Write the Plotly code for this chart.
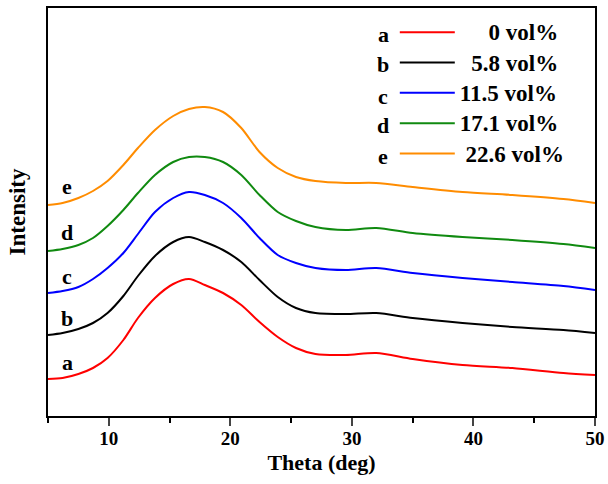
import plotly.graph_objects as go

theta = [5.0, 6.2, 7.5, 8.7, 9.9, 11.2, 12.4, 13.8, 15.3, 16.6, 17.9, 19.4, 20.9,
         22.4, 23.9, 25.4, 27.0, 29.5, 32.0, 35.0, 39.1, 43.2, 47.4, 50.0]

# intensity (arbitrary units, offset stacked)
int_a = [37, 38, 42, 48, 58, 76, 98, 118, 132, 137, 131, 123, 111, 94, 79, 68, 62, 61, 63, 57, 51, 48, 43, 41]
int_b = [81, 83, 87, 93, 103, 120, 140, 160, 174, 179, 174, 166, 154, 136, 119, 108, 103, 102, 103, 98, 93, 89, 86, 83]
int_c = [123, 125, 129, 137, 148, 163, 182, 204, 218, 224, 221, 213, 198, 178, 161, 153, 148, 146, 148, 143, 138, 134, 130, 126]
int_d = [165, 167, 171, 178, 190, 206, 223, 241, 254, 259, 259, 254, 241, 221, 204, 195, 189, 186, 188, 183, 179, 176, 172, 168]
int_e = [211, 213, 218, 225, 235, 251, 268, 286, 300, 307, 309, 304, 288, 264, 248, 239, 235, 233, 233, 229, 224, 221, 217, 213]

series_letters = ["a", "b", "c", "d", "e"]
series_names = ["0 vol%", "5.8 vol%", "11.5 vol%", "17.1 vol%", "22.6 vol%"]
series_values = [int_a, int_b, int_c, int_d, int_e]
series_colors = ["#ff0000", "#000000", "#0000ff", "#108a10", "#ff8c00"]
label_y = [54, 98, 140, 184, 230]
label_x = 6.6

FONT = "Liberation Serif, Times New Roman, serif"
pad = ["\u00a0" * 5, "\u00a0" * 2, "", "", "\u00a0"]

fig = go.Figure()
for i, (vals, name, col) in enumerate(zip(series_values, series_names, series_colors)):
    fig.add_trace(go.Scatter(
        x=theta, y=vals, mode="lines",
        name='<span style="font-size:23px">' + pad[i] + name + "</span>",
        line=dict(color=col, width=2, shape="spline", smoothing=0.8),
    ))

for lx, ly, lt in zip([label_x] * 5, label_y, series_letters):
    fig.add_annotation(x=lx, y=ly, text=lt, showarrow=False, xref="x", yref="y",
                       xanchor="center", yanchor="middle",
                       font=dict(family=FONT, size=22, color="black", weight="bold"))

# letters beside legend entries
leg_letter_y = [34, 65, 96, 126, 156]
for lt, py in zip(series_letters, leg_letter_y):
    fig.add_annotation(x=(383 - 48) / 547, y=(416 - py) / 408, xref="paper", yref="paper",
                       text=lt, showarrow=False, xanchor="center", yanchor="middle",
                       font=dict(family=FONT, size=22, color="black", weight="bold"))

fig.update_layout(
    width=608, height=484,
    margin=dict(l=48, r=13, t=8, b=68),
    paper_bgcolor="white", plot_bgcolor="white",
    font=dict(family=FONT, color="black"),
    showlegend=True,
    legend=dict(x=0.634, y=0.99, xanchor="left", yanchor="top",
                bgcolor="rgba(0,0,0,0)", borderwidth=0,
                font=dict(family=FONT, size=21, color="black", weight="bold"),
                itemwidth=55, traceorder="normal"),
    xaxis=dict(range=[5, 50], tick0=0, dtick=10, ticks="outside", ticklen=8, tickwidth=1.5,
               minor=dict(dtick=5, ticks="outside", ticklen=5, tickwidth=1.5, tickcolor="black"),
               showline=True, linewidth=2, linecolor="black", mirror=True,
               showgrid=False, zeroline=False, automargin=False, ticklabelstandoff=-4,
               tickfont=dict(family=FONT, size=19, color="black", weight="bold"),
               title=dict(text="Theta (deg)", standoff=7,
                          font=dict(family=FONT, size=22, color="black", weight="bold"))),
    yaxis=dict(range=[0, 408], showticklabels=False, ticks="",
               showline=True, linewidth=2, linecolor="black", mirror=True,
               showgrid=False, zeroline=False, automargin=False,
               title=dict(text="Intensity", standoff=14,
                          font=dict(family=FONT, size=23, color="black", weight="bold"))),
)

fig.write_html("out.html", config={"displayModeBar": False},
               post_script="document.body.style.margin='0';")
